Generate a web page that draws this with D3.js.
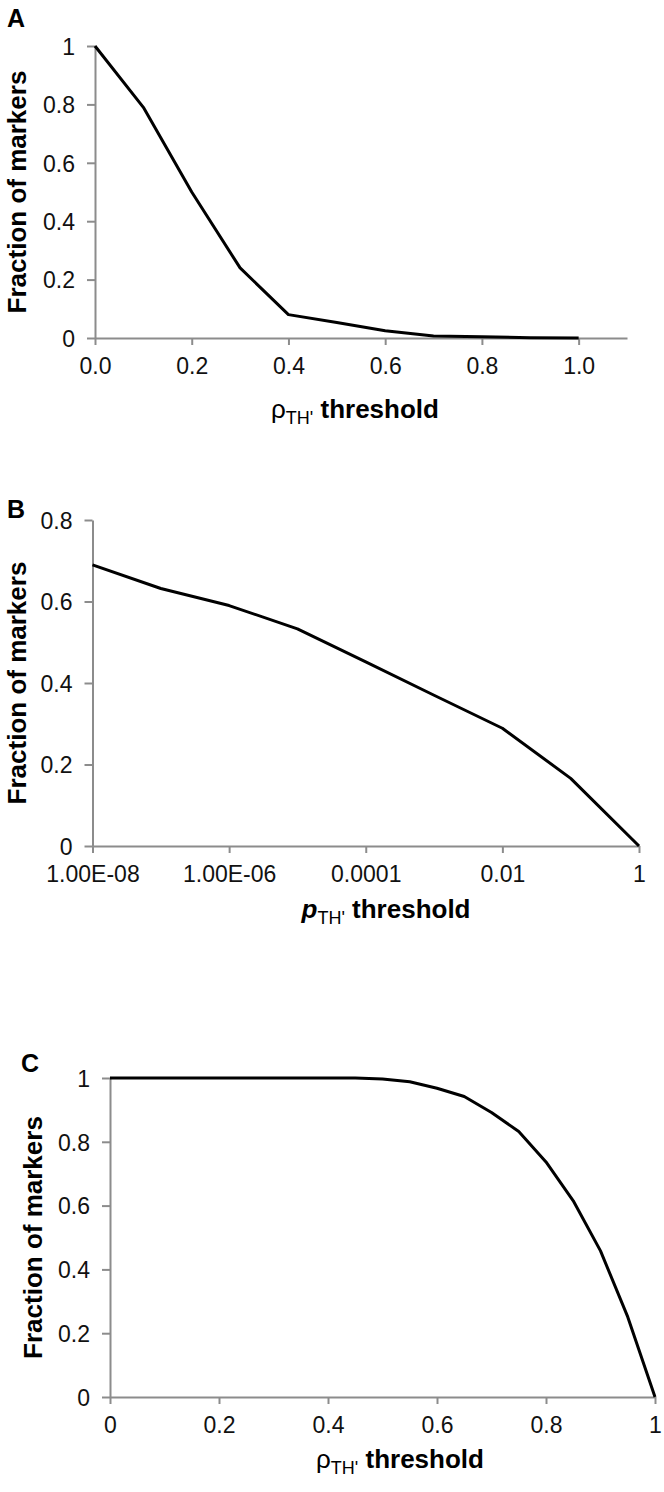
<!DOCTYPE html>
<html><head><meta charset="utf-8">
<script src="https://cdn.jsdelivr.net/npm/d3@7"></script>
<style>body{margin:0;background:#fff}</style>
</head><body>
<svg id="c" width="664" height="1492" xmlns="http://www.w3.org/2000/svg"></svg>
<script>
// Panel A data
const aX = [0, 0.1, 0.2, 0.3, 0.4, 0.5, 0.6, 0.7, 0.8, 0.9, 1.0];
const aY = [1.0, 0.79, 0.50, 0.24, 0.08, 0.053, 0.025, 0.007, 0.004, 0.001, 0];
const aXTicks = [0, 0.2, 0.4, 0.6, 0.8, 1.0];
const aXTickLabels = ["0.0", "0.2", "0.4", "0.6", "0.8", "1.0"];
const aYTicks = [0, 0.2, 0.4, 0.6, 0.8, 1];
const aYTickLabels = ["0", "0.2", "0.4", "0.6", "0.8", "1"];

// Panel B data
const bX = [1e-8, 1e-7, 1e-6, 1e-5, 1e-4, 1e-3, 1e-2, 1e-1, 1];
const bY = [0.69, 0.632, 0.59, 0.533, 0.452, 0.37, 0.289, 0.166, 0];
const bXTicks = [1e-8, 1e-6, 1e-4, 1e-2, 1];
const bXTickLabels = ["1.00E-08", "1.00E-06", "0.0001", "0.01", "1"];
const bYTicks = [0, 0.2, 0.4, 0.6, 0.8];
const bYTickLabels = ["0", "0.2", "0.4", "0.6", "0.8"];

// Panel C data
const cX = [0, 0.05, 0.1, 0.15, 0.2, 0.25, 0.3, 0.35, 0.4, 0.45, 0.5, 0.55, 0.6, 0.65, 0.7, 0.75, 0.8, 0.85, 0.9, 0.95, 1.0];
const cY = [1, 1, 1, 1, 1, 1, 1, 1, 1, 1, 0.997, 0.988, 0.968, 0.942, 0.892, 0.832, 0.737, 0.615, 0.458, 0.251, 0];
const cXTicks = [0, 0.2, 0.4, 0.6, 0.8, 1];
const cXTickLabels = ["0", "0.2", "0.4", "0.6", "0.8", "1"];
const cYTicks = [0, 0.2, 0.4, 0.6, 0.8, 1];
const cYTickLabels = ["0", "0.2", "0.4", "0.6", "0.8", "1"];

const svg = d3.select("#c");
const AXIS = "#8c8c8c";
const FONT = "'Liberation Sans', Arial, sans-serif";

function panel(cfg) {
  const g = svg.append("g");
  const x = cfg.x, y = cfg.y;
  const [x0] = x.range();
  const [y0] = y.range();

  // x axis
  const xa = d3.axisBottom(x).tickValues(cfg.xt).tickSize(7).tickSizeOuter(0)
    .tickFormat((d, i) => cfg.xl[i]);
  const gx = g.append("g").attr("transform", `translate(0,${y0})`).call(xa);
  // y axis
  const ya = d3.axisLeft(y).tickValues(cfg.yt).tickSize(8).tickSizeOuter(0)
    .tickFormat((d, i) => cfg.yl[i]);
  const gy = g.append("g").attr("transform", `translate(${x0},0)`).call(ya);

  [gx, gy].forEach(a => {
    a.select(".domain").attr("stroke", AXIS).attr("stroke-width", 2);
    a.selectAll(".tick line").attr("stroke", AXIS).attr("stroke-width", 2);
    a.selectAll(".tick text").attr("fill", "#111").style("font-family", FONT).style("font-size", "23px");
  });
  gx.selectAll(".tick text").attr("y", 19).attr("dy", "0.72em");
  gy.selectAll(".tick text").attr("x", -20).attr("dy", "0.36em");

  // line
  const line = d3.line().x(d => x(d[0])).y(d => y(d[1]));
  g.append("path").datum(cfg.xs.map((v, i) => [v, cfg.ys[i]]))
    .attr("d", line).attr("fill", "none").attr("stroke", "#000")
    .attr("stroke-width", 3).attr("stroke-linejoin", "round");

  // y title
  const ym = (y.range()[0] + y.range()[1]) / 2;
  g.append("text").attr("transform", `translate(${cfg.ytx},${ym}) rotate(-90)`)
    .attr("text-anchor", "middle").attr("dy", "0.36em")
    .style("font-family", FONT).style("font-size", "26px").style("font-weight", "bold")
    .text("Fraction of markers");

  // x title
  const t = g.append("text").attr("x", cfg.xtx).attr("y", cfg.xty).attr("text-anchor", "middle")
    .style("font-family", FONT).style("font-size", "26px");
  t.append("tspan").text(cfg.sym).style("font-weight", cfg.symBold ? "bold" : "normal")
    .style("font-style", cfg.symItalic ? "italic" : "normal");
  t.append("tspan").text("TH'").attr("dy", 6).style("font-size", "18px");
  t.append("tspan").text(" threshold").attr("dy", -6).style("font-weight", "bold");

  // panel letter
  g.append("text").attr("x", cfg.lx).attr("y", cfg.ly)
    .style("font-family", FONT).style("font-size", "25px").style("font-weight", "bold")
    .text(cfg.letter);
}

panel({
  x: d3.scaleLinear().domain([0, 1.1]).range([95, 627]),
  y: d3.scaleLinear().domain([0, 1]).range([338, 46]),
  xt: aXTicks, xl: aXTickLabels, yt: aYTicks, yl: aYTickLabels,
  xs: aX, ys: aY, ytx: 17, xtx: 355, xty: 418, sym: "ρ", letter: "A", lx: 7, ly: 27
});
panel({
  x: d3.scaleLog().domain([1e-8, 1]).range([92.5, 639]),
  y: d3.scaleLinear().domain([0, 0.8]).range([846, 520]),
  xt: bXTicks, xl: bXTickLabels, yt: bYTicks, yl: bYTickLabels,
  xs: bX, ys: bY, ytx: 17, xtx: 386, xty: 918, sym: "p", symBold: true, symItalic: true, letter: "B", lx: 7, ly: 518
});
panel({
  x: d3.scaleLinear().domain([0, 1]).range([110, 655]),
  y: d3.scaleLinear().domain([0, 1]).range([1397, 1078]),
  xt: cXTicks, xl: cXTickLabels, yt: cYTicks, yl: cYTickLabels,
  xs: cX, ys: cY, ytx: 33, xtx: 400, xty: 1468, sym: "ρ", letter: "C", lx: 21, ly: 1072
});
</script>
</body></html>
